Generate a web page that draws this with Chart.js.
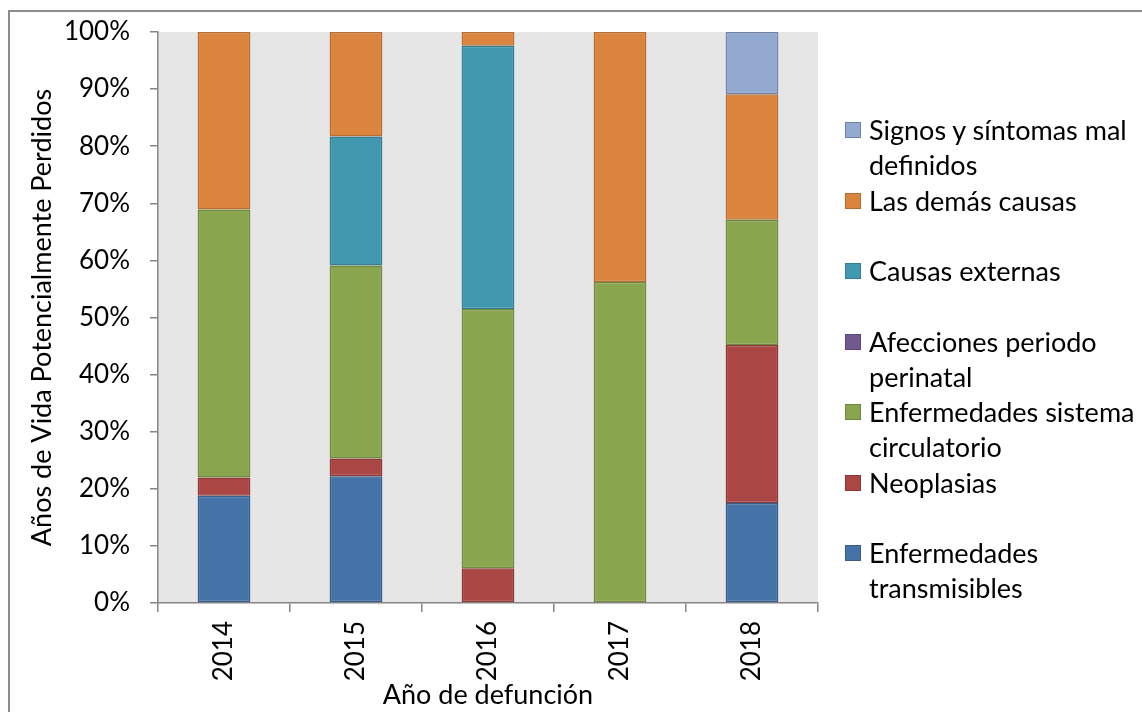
<!DOCTYPE html>
<html lang="es">
<head>
    <meta charset="UTF-8">
    <title>Años de Vida Potencialmente Perdidos</title>
    <script src="https://cdn.jsdelivr.net/npm/chart.js"></script>
    <style>
        body { margin: 0; width: 1142px; height: 712px; overflow: hidden; background: #fff; font-family: Lato, sans-serif; }
        #frame { position: absolute; left: 8px; top: 10px; width: 1300px; height: 900px; border: 2px solid #8c8c8c; box-sizing: border-box; }
        #myChart { position: absolute; left: 0; top: 0; }
        #legend { position: absolute; left: 845px; top: 112px; }
        .item { position: relative; height: 70.5px; padding-left: 24px; font-size: 27px; line-height: 35px; color: #000; white-space: nowrap; }
        .box { position: absolute; left: 0; top: 10px; width: 16px; height: 16px; box-sizing: border-box; border: 1px solid; }
    </style>
</head>
<body>
    <div id="frame"></div>
    <canvas id="myChart" width="1142" height="712"></canvas>
    <div id="legend"></div>

    <script>
        // años de defunción
        const years = ['2014', '2015', '2016', '2017', '2018'];

        // porcentaje de AVPP por grupo de causas (de abajo hacia arriba)
        const transmisibles = [18.8, 22.2, 0, 0, 17.5];
        const neoplasias = [3.2, 3.1, 6.1, 0, 27.7];
        const circulatorio = [46.9, 33.8, 45.4, 56.2, 21.9];
        const perinatal = [0, 0, 0, 0, 0];
        const externas = [0, 22.6, 46.1, 0, 0];
        const demas = [31.1, 18.3, 2.4, 43.8, 22.0];
        const signos = [0, 0, 0, 0, 10.9];

        const yTicks = [0, 10, 20, 30, 40, 50, 60, 70, 80, 90, 100];

        const series = [
            { label: 'Enfermedades transmisibles', lines: ['Enfermedades', 'transmisibles'], data: transmisibles, bg: '#4572a7', border: '#385d8a' },
            { label: 'Neoplasias', lines: ['Neoplasias'], data: neoplasias, bg: '#aa4643', border: '#8c3836' },
            { label: 'Enfermedades sistema circulatorio', lines: ['Enfermedades sistema', 'circulatorio'], data: circulatorio, bg: '#89a54e', border: '#71893f' },
            { label: 'Afecciones periodo perinatal', lines: ['Afecciones periodo', 'perinatal'], data: perinatal, bg: '#71588f', border: '#5c4776' },
            { label: 'Causas externas', lines: ['Causas externas'], data: externas, bg: '#4198af', border: '#357d91' },
            { label: 'Las demás causas', lines: ['Las demás causas'], data: demas, bg: '#db843d', border: '#b66d31' },
            { label: 'Signos y síntomas mal definidos', lines: ['Signos y síntomas mal', 'definidos'], data: signos, bg: '#93a9cf', border: '#6f83a8' }
        ];

        // leyenda a la derecha, en orden inverso
        const legend = document.getElementById('legend');
        series.slice().reverse().forEach(s => {
            const item = document.createElement('div');
            item.className = 'item';
            const box = document.createElement('span');
            box.className = 'box';
            box.style.background = s.bg;
            box.style.borderColor = s.border;
            item.appendChild(box);
            item.insertAdjacentHTML('beforeend', s.lines.join('<br>'));
            legend.appendChild(item);
        });

        // fondo gris del área de trazado
        const plotBackground = {
            id: 'plotBackground',
            beforeDraw(chart) {
                const { ctx, chartArea: a } = chart;
                ctx.save();
                ctx.fillStyle = '#e6e6e6';
                ctx.fillRect(a.left, a.top, a.right - a.left, a.bottom - a.top);
                ctx.restore();
            }
        };

        const tickFont = { family: 'Lato, sans-serif', size: 26 };
        const titleFont = { family: 'Lato, sans-serif', size: 27 };

        const ctx = document.getElementById('myChart').getContext('2d');
        const myChart = new Chart(ctx, {
            type: 'bar',
            data: {
                labels: years,
                datasets: series.map(s => ({
                    label: s.label,
                    data: s.data,
                    backgroundColor: s.bg,
                    borderColor: s.border,
                    borderWidth: 1.5,
                    borderSkipped: false,
                    barPercentage: 0.4,
                    categoryPercentage: 1.0
                }))
            },
            options: {
                responsive: false,
                animation: false,
                layout: { padding: { left: 0, top: 32, right: 324, bottom: 0 } },
                plugins: {
                    legend: { display: false },
                    tooltip: { enabled: false }
                },
                scales: {
                    x: {
                        stacked: true,
                        grid: { drawOnChartArea: false, color: '#868686', tickLength: 9, lineWidth: 1.5 },
                        border: { color: '#868686', width: 1.5 },
                        ticks: { color: '#000', font: tickFont, minRotation: 90, maxRotation: 90, padding: 9 },
                        title: { display: true, text: 'Año de defunción', color: '#000', font: titleFont, padding: { top: 0, bottom: 1 } },
                        afterFit(scale) {
                            scale.height = 109;
                            scale.paddingLeft = 0;
                            scale.paddingRight = 0;
                        }
                    },
                    y: {
                        stacked: true,
                        min: 0,
                        max: 100,
                        afterBuildTicks(scale) { scale.ticks = yTicks.map(v => ({ value: v })); },
                        grid: { drawOnChartArea: false, color: '#868686', tickLength: 8, lineWidth: 1.5 },
                        border: { color: '#868686', width: 1.5 },
                        ticks: { color: '#000', font: tickFont, padding: 20, callback: v => v + '%' },
                        title: { display: true, text: 'Años de Vida Potencialmente Perdidos', color: '#000', font: titleFont, padding: { top: 26, bottom: 0 } },
                        afterFit(scale) {
                            scale.width = 158;
                            scale.paddingTop = 0;
                            scale.paddingBottom = 0;
                        }
                    }
                }
            },
            plugins: [plotBackground]
        });
    </script>
</body>
</html>
